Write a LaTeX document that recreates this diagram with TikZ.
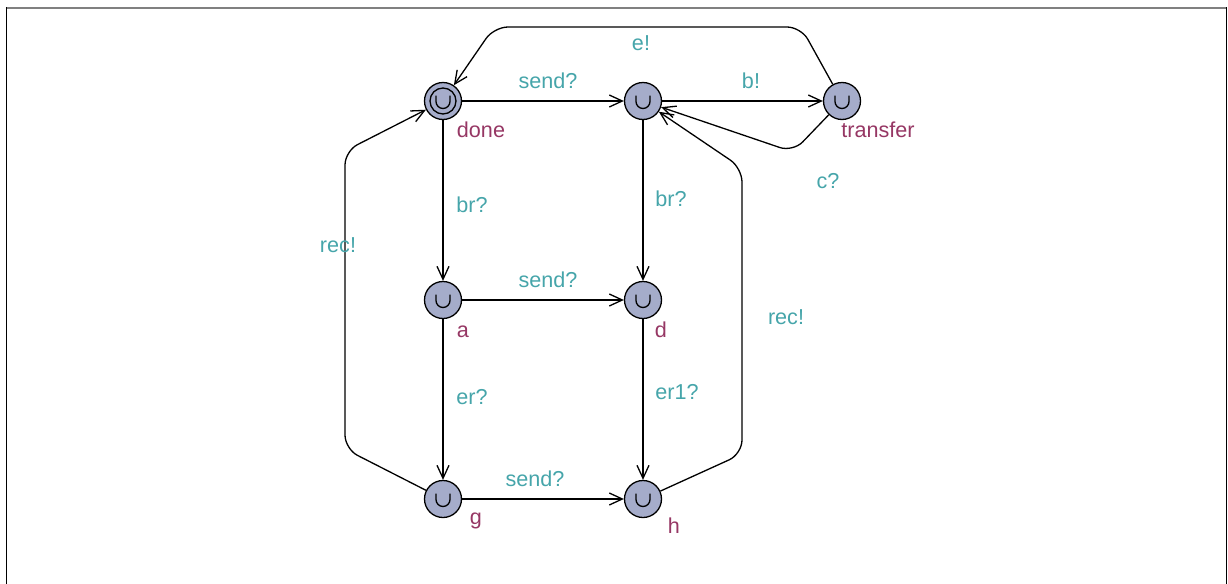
\documentclass[tikz,border=0pt]{standalone}
\usepackage{fontspec}
\setmainfont{Liberation Sans}
\usetikzlibrary{arrows.meta}
\definecolor{locfill}{RGB}{165,172,202}
\definecolor{synccol}{RGB}{70,165,170}
\definecolor{namecol}{RGB}{150,55,100}
\begin{document}
\begin{tikzpicture}[x=0.5pt,y=-0.5pt,
  loc/.style={circle,draw,fill=locfill,line width=0.65pt,minimum size=18.5pt,inner sep=0pt},
  edge/.style={line width=0.65pt,-{Straight Barb[length=6.5pt,width=6pt,line width=0.65pt]},rounded corners=7pt},
  sync/.style={text=synccol,anchor=base,inner sep=0pt,font=\fontsize{10.8}{13}\selectfont},
  lname/.style={text=namecol,anchor=base,inner sep=0pt,font=\fontsize{10.8}{13}\selectfont}]
\useasboundingbox (0,0) rectangle (1228,584);
% frame
\draw[gray,line width=1pt] (6,7.5) -- (1227,7.5);
\draw[line width=0.6pt] (6.5,7) -- (6.5,584);
\draw[line width=0.6pt] (1226.5,7) -- (1226.5,584);

% locations
\node[loc] (done) at (443,101) {};
\node[loc] (mid) at (643,101) {};
\node[loc] (transfer) at (842,101) {};
\node[loc] (a) at (443,300) {};
\node[loc] (d) at (643,300) {};
\node[loc] (g) at (443,499) {};
\node[loc] (h) at (643,499) {};
\draw[line width=0.65pt] (done) circle (6.5pt);
\foreach \n in {done,mid,transfer,a,d,g,h}{
\draw[line width=0.65pt] ([xshift=-3.5pt,yshift=2.75pt]\n.center) -- ++(0,-3pt) arc (180:360:3.5pt) -- ++(0,3pt);
}

% names
\node[lname] (ndone) at (481,137) {done};
\node[lname] (ntransfer) at (878,137) {transfer};
\node[lname] (na) at (463,337) {a};
\node[lname] (nd) at (661,337) {d};
\node[lname] (ng) at (476,524) {g};
\node[lname] (nh) at (674,533) {h};

% edges
\draw[edge] (done) -- (mid);
\draw[edge] (mid) -- (transfer);
\draw[edge] (transfer) -- (801,27) -- (494,27) -- (done);
\draw[edge] (transfer) -- (793,152) -- (mid);
\draw[edge] (done) -- (a);
\draw[edge] (a) -- (d);
\draw[edge] (mid) -- (d);
\draw[edge] (a) -- (g);
\draw[edge] (d) -- (h);
\draw[edge] (g) -- (h);
\draw[edge] (g) -- (345,449) -- (345,151) -- (done);
\draw[edge] (h) -- (742,454) -- (742,168) -- (mid);

% labels
\node[sync] (l1) at (548,88) {send?};
\node[sync] (l2) at (751,88) {b!};
\node[sync] (l3) at (641,50) {e!};
\node[sync] (l4) at (828,188) {c?};
\node[sync] (l5) at (472,212) {br?};
\node[sync] (l6) at (548,287) {send?};
\node[sync] (l7) at (671,206) {br?};
\node[sync] (l8) at (472,404) {er?};
\node[sync] (l9) at (677,399) {er1?};
\node[sync] (l10) at (535,486) {send?};
\node[sync] (l11) at (338,252) {rec!};
\node[sync] (l12) at (786,324) {rec!};
\end{tikzpicture}
\end{document}
